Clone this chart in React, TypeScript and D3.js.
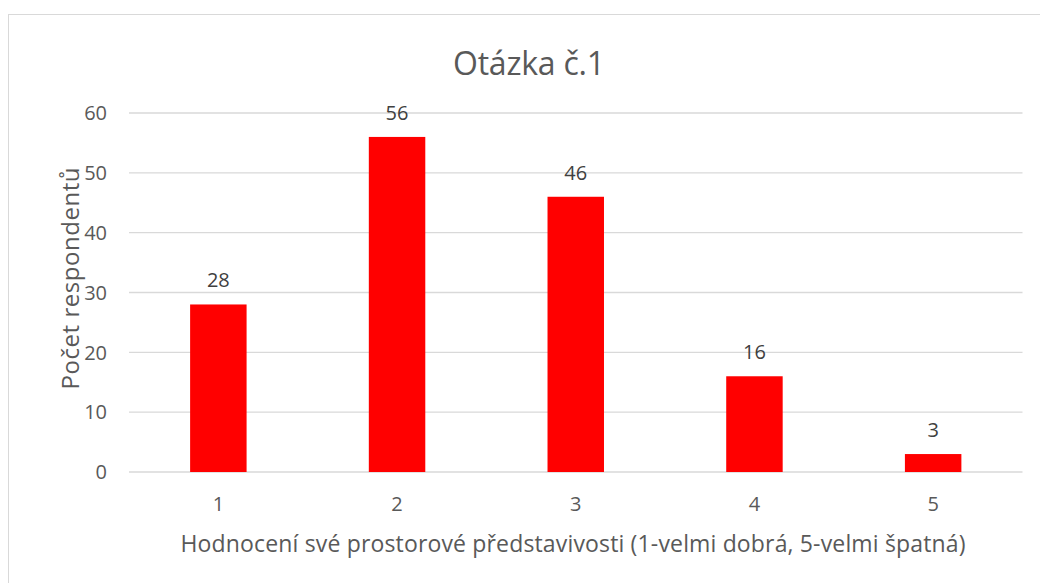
import { useEffect, useRef } from "react";
import * as d3 from "d3";

const categories = ["1", "2", "3", "4", "5"];
const counts = [28, 56, 46, 16, 3];
const yTicks = [0, 10, 20, 30, 40, 50, 60];

const W = 1040;
const H = 583;
const FONT = "'Open Sans', sans-serif";
const TEXT = "#595959";

export default function App() {
  const ref = useRef<SVGSVGElement>(null);

  useEffect(() => {
    const svg = d3.select(ref.current);
    svg.selectAll("*").remove();

    const left = 129, right = 1022.5, top = 113, bottom = 472;

    const x = d3.scaleBand().domain(categories).range([left, right]).padding(0);
    const y = d3.scaleLinear().domain([0, 60]).range([bottom, top]);
    const barW = x.bandwidth() * 0.316;

    // chart border
    svg.append("rect")
      .attr("x", 8.5).attr("y", 14.5)
      .attr("width", W + 20).attr("height", H)
      .attr("fill", "white")
      .attr("stroke", "#d9d9d9");

    // gridlines
    svg.append("g")
      .selectAll("line")
      .data(yTicks)
      .join("line")
      .attr("x1", left).attr("x2", right)
      .attr("y1", d => y(d)).attr("y2", d => y(d))
      .attr("stroke", "#d9d9d9")
      .attr("stroke-width", 1.3);

    // y tick labels
    svg.append("g")
      .selectAll("text")
      .data(yTicks)
      .join("text")
      .attr("x", 107)
      .attr("y", d => y(d))
      .attr("dy", "0.36em")
      .attr("text-anchor", "end")
      .attr("font-family", FONT)
      .attr("font-size", 20)
      .attr("fill", TEXT)
      .text(d => d);

    // bars
    svg.append("g")
      .selectAll("rect")
      .data(counts)
      .join("rect")
      .attr("x", (d, i) => x(categories[i])! + x.bandwidth() / 2 - barW / 2)
      .attr("y", d => y(d))
      .attr("width", barW)
      .attr("height", d => bottom - y(d))
      .attr("fill", "#ff0000");

    // value labels
    svg.append("g")
      .selectAll("text")
      .data(counts)
      .join("text")
      .attr("x", (d, i) => x(categories[i])! + x.bandwidth() / 2)
      .attr("y", d => y(d) - 17)
      .attr("text-anchor", "middle")
      .attr("font-family", FONT)
      .attr("font-size", 20)
      .attr("fill", "#404040")
      .text(d => d);

    // x tick labels
    svg.append("g")
      .selectAll("text")
      .data(categories)
      .join("text")
      .attr("x", d => x(d)! + x.bandwidth() / 2)
      .attr("y", 511)
      .attr("text-anchor", "middle")
      .attr("font-family", FONT)
      .attr("font-size", 20)
      .attr("fill", TEXT)
      .text(d => d);

    // title
    svg.append("text")
      .attr("x", 529)
      .attr("y", 75)
      .attr("text-anchor", "middle")
      .attr("font-family", FONT)
      .attr("font-size", 32)
      .attr("fill", TEXT)
      .attr("textLength", 152)
      .attr("lengthAdjust", "spacing")
      .text("Otázka č.1");

    // x axis title
    svg.append("text")
      .attr("x", 573)
      .attr("y", 552)
      .attr("text-anchor", "middle")
      .attr("font-family", FONT)
      .attr("font-size", 23)
      .attr("fill", TEXT)
      .attr("textLength", 785)
      .attr("lengthAdjust", "spacing")
      .text("Hodnocení své prostorové představivosti (1-velmi dobrá, 5-velmi špatná)");

    // y axis title
    svg.append("text")
      .attr("transform", `translate(79, ${(top + bottom) / 2 - 14}) rotate(-90)`)
      .attr("text-anchor", "middle")
      .attr("font-family", FONT)
      .attr("font-size", 24)
      .attr("fill", TEXT)
      .attr("textLength", 222)
      .attr("lengthAdjust", "spacing")
      .text("Počet respondentů");
  }, []);

  return (
    <svg
      ref={ref}
      width={W}
      height={H}
      style={{ position: "absolute", left: 0, top: 0 }}
    />
  );
}
